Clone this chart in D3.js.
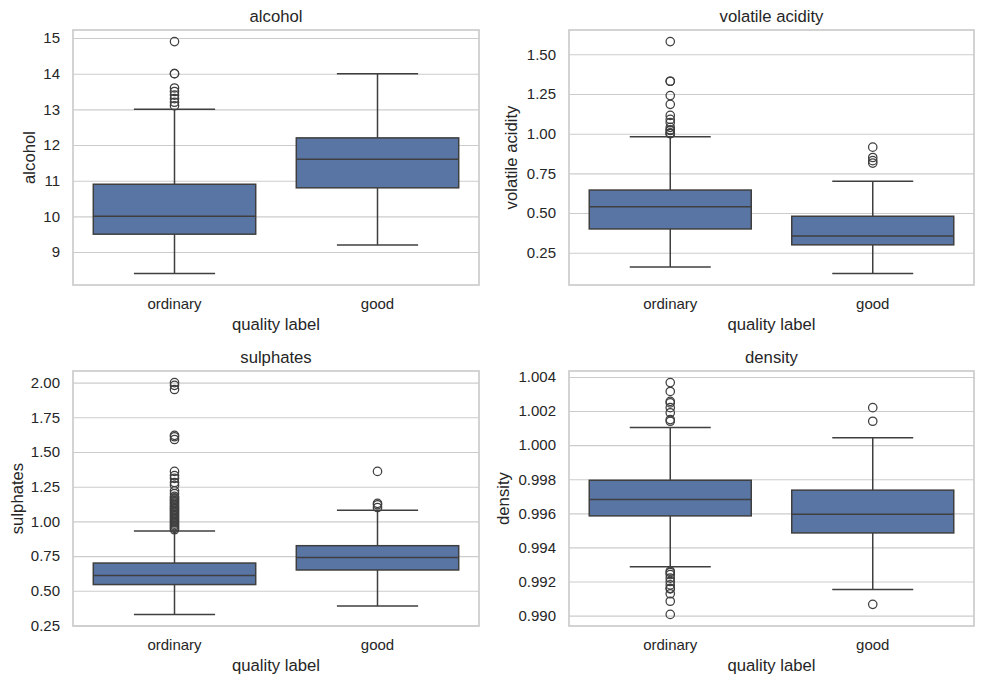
<!DOCTYPE html>
<html>
<head>
<meta charset="utf-8">
<script src="https://cdn.jsdelivr.net/npm/d3@7"></script>
<style>
  body { margin: 0; background: #fff; }
  svg { display: block; font-family: "Liberation Sans", Arial, sans-serif; }
</style>
</head>
<body>
<svg width="984" height="684"></svg>
<script>
const categories = ["ordinary", "good"];

// box stats per category: [whisker low, q1, median, q3, whisker high]
const alcohol_stats = [[8.4, 9.5, 10.0, 10.9, 13.0], [9.2, 10.8, 11.6, 12.2, 14.0]];
const alcohol_fliers = [
    [13.1, 13.2, 13.3, 13.4, 13.5, 13.6, 14.0, 14.0, 14.9],
    []
];
const alcohol_ticks = [9, 10, 11, 12, 13, 14, 15];

const volatile_stats = [[0.16, 0.40, 0.54, 0.645, 0.98], [0.12, 0.30, 0.355, 0.48, 0.70]];
const volatile_fliers = [
    [1.0, 1.0, 1.005, 1.02, 1.025, 1.04, 1.07, 1.09, 1.115, 1.185, 1.24, 1.33, 1.33, 1.58],
    [0.815, 0.83, 0.85, 0.915]
];
const volatile_ticks = [0.25, 0.5, 0.75, 1.0, 1.25, 1.5];

const sulphates_stats = [[0.33, 0.545, 0.61, 0.70, 0.93], [0.39, 0.65, 0.74, 0.825, 1.08]];
const sulphates_fliers = [
    [0.94, 0.95, 0.96, 0.97, 0.98, 0.99, 1.0, 1.01, 1.02, 1.03, 1.04, 1.05, 1.06, 1.07,
     1.08, 1.09, 1.1, 1.11, 1.12, 1.13, 1.14, 1.15, 1.16, 1.17, 1.18, 1.2, 1.22, 1.26,
     1.28, 1.31, 1.33, 1.36, 1.59, 1.61, 1.62, 1.95, 1.98, 2.0],
    [1.10, 1.12, 1.13, 1.36]
];
const sulphates_ticks = [0.25, 0.5, 0.75, 1.0, 1.25, 1.5, 1.75, 2.0];

const density_stats = [[0.99287, 0.99585, 0.99681, 0.99794, 1.00103], [0.99153, 0.99485, 0.99594, 0.99736, 1.00043]];
const density_fliers = [
    [0.99007, 0.99084, 0.99128, 0.99157, 0.9916, 0.9918, 0.992, 0.9922, 0.9924, 0.99252, 0.9926,
     1.0014, 1.0015, 1.0019, 1.0022, 1.00248, 1.00257, 1.00315, 1.00367],
    [0.99066, 1.0014, 1.0022]
];
const density_ticks = [0.990, 0.992, 0.994, 0.996, 0.998, 1.000, 1.002, 1.004];

const svg = d3.select("svg");

const box_fill = "#5975a4";
const line_col = "#3f3f3f";
const text_col = "#262626";
const grid_col = "#cccccc";

const cols = [[73, 479], [569, 974]];
const rows = [[30, 285], [371, 626]];

const panels = [
    { name: "alcohol", stats: alcohol_stats, fliers: alcohol_fliers, ticks: alcohol_ticks, fmt: d3.format("d"), col: 0, row: 0, labX: 29 },
    { name: "volatile acidity", stats: volatile_stats, fliers: volatile_fliers, ticks: volatile_ticks, fmt: d3.format(".2f"), col: 1, row: 0, labX: 511 },
    { name: "sulphates", stats: sulphates_stats, fliers: sulphates_fliers, ticks: sulphates_ticks, fmt: d3.format(".2f"), col: 0, row: 1, labX: 17 },
    { name: "density", stats: density_stats, fliers: density_fliers, ticks: density_ticks, fmt: d3.format(".3f"), col: 1, row: 1, labX: 503 }
];

const drawPanel = (p) => {
    const [x0, x1] = cols[p.col];
    const [y0, y1] = rows[p.row];
    const g = svg.append("g");

    // seaborn-like 5% padding on data extent
    const all = p.stats.flat().concat(p.fliers.flat());
    const [lo, hi] = d3.extent(all);
    const pad = (hi - lo) * 0.05;
    const y = d3.scaleLinear().domain([lo - pad, hi + pad]).range([y1, y0]);

    const x = d3.scaleBand().domain(categories).range([x0, x1]).paddingInner(0).paddingOuter(0);
    const bw = x.bandwidth() * 0.8;

    // grid
    const yAxis = d3.axisLeft(y).tickValues(p.ticks).tickFormat(p.fmt).tickSize(-(x1 - x0)).tickPadding(13);
    const ax = g.append("g").attr("transform", `translate(${x0},0)`).call(yAxis);
    ax.select(".domain").remove();
    ax.selectAll(".tick line").attr("stroke", grid_col).attr("stroke-width", 1.1);
    ax.selectAll(".tick text")
        .attr("fill", text_col)
        .style("font-size", "15px");

    // frame
    g.append("rect")
        .attr("x", x0).attr("y", y0)
        .attr("width", x1 - x0).attr("height", y1 - y0)
        .attr("fill", "none").attr("stroke", grid_col).attr("stroke-width", 1.7);

    const boxes = g.selectAll("g.box")
        .data(categories.map((c, i) => ({ c, s: p.stats[i], f: p.fliers[i] })))
        .enter().append("g").attr("class", "box");

    const cx = (d) => x(d.c) + x.bandwidth() / 2;

    // whiskers
    boxes.append("line")
        .attr("x1", cx).attr("x2", cx)
        .attr("y1", (d) => y(d.s[0])).attr("y2", (d) => y(d.s[1]));
    boxes.append("line")
        .attr("x1", cx).attr("x2", cx)
        .attr("y1", (d) => y(d.s[3])).attr("y2", (d) => y(d.s[4]));
    // caps
    [0, 4].forEach((k) => {
        boxes.append("line")
            .attr("x1", (d) => cx(d) - bw / 4).attr("x2", (d) => cx(d) + bw / 4)
            .attr("y1", (d) => y(d.s[k])).attr("y2", (d) => y(d.s[k]));
    });
    // box
    boxes.append("rect")
        .attr("x", (d) => cx(d) - bw / 2)
        .attr("width", bw)
        .attr("y", (d) => y(d.s[3]))
        .attr("height", (d) => y(d.s[1]) - y(d.s[3]))
        .attr("fill", box_fill);
    // median
    boxes.append("line")
        .attr("x1", (d) => cx(d) - bw / 2).attr("x2", (d) => cx(d) + bw / 2)
        .attr("y1", (d) => y(d.s[2])).attr("y2", (d) => y(d.s[2]));
    boxes.selectAll("line, rect")
        .attr("stroke", line_col).attr("stroke-width", 1.5);

    // fliers
    boxes.each(function (d) {
        d3.select(this).selectAll("circle")
            .data(d.f)
            .enter().append("circle")
            .attr("cx", cx(d))
            .attr("cy", (v) => y(v))
            .attr("r", 4.2)
            .attr("fill", "none")
            .attr("stroke", line_col)
            .attr("stroke-width", 1.25);
    });

    // x tick labels
    g.selectAll("text.xt")
        .data(categories)
        .enter().append("text")
        .attr("class", "xt")
        .attr("x", (c) => x(c) + x.bandwidth() / 2)
        .attr("y", y1 + 24)
        .attr("text-anchor", "middle")
        .attr("fill", text_col)
        .style("font-size", "15px")
        .text((c) => c);

    // axis labels and title
    g.append("text")
        .attr("x", (x0 + x1) / 2).attr("y", y1 + 45)
        .attr("text-anchor", "middle").attr("fill", text_col)
        .style("font-size", "16.7px")
        .text("quality label");

    g.append("text")
        .attr("transform", `translate(${p.labX},${(y0 + y1) / 2}) rotate(-90)`)
        .attr("text-anchor", "middle").attr("dy", "0.35em").attr("fill", text_col)
        .style("font-size", "16.7px")
        .text(p.name);

    g.append("text")
        .attr("x", (x0 + x1) / 2).attr("y", y0 - 8)
        .attr("text-anchor", "middle").attr("fill", text_col)
        .style("font-size", "16.7px")
        .text(p.name);
};

panels.forEach(drawPanel);
</script>
</body>
</html>
